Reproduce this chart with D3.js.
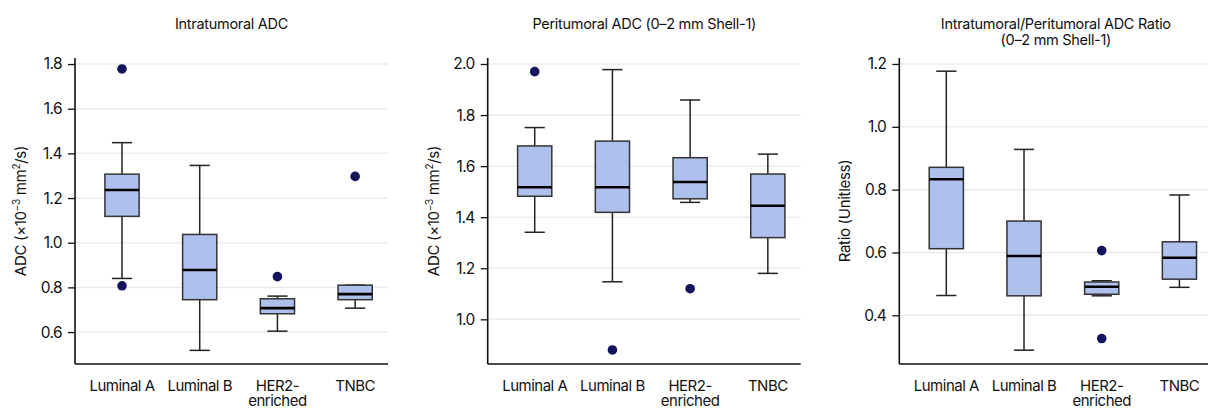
<!DOCTYPE html>
<html>
<head>
<meta charset="utf-8">
<script src="https://cdn.jsdelivr.net/npm/d3@7"></script>
<style>
  html, body { margin: 0; padding: 0; background: #fff; }
  text { font-family: Inter, "Liberation Sans", Arial, sans-serif; fill: #111; }
</style>
</head>
<body>
<svg id="chart" width="1208" height="408"></svg>
<script>
const categories = ["Luminal A", "Luminal B", "HER2-\nenriched", "TNBC"];

// Box stats per category: [whiskerLow, Q1, median, Q3, whiskerHigh]
const intraStats = [
  [0.84, 1.118, 1.236, 1.307, 1.448],
  [0.518, 0.745, 0.878, 1.037, 1.346],
  [0.604, 0.682, 0.707, 0.749, 0.761],
  [0.707, 0.745, 0.770, 0.810, 0.810]
];
const intraOutliers = [[1.778, 0.807], [], [0.848], [1.297]];

const periStats = [
  [1.341, 1.482, 1.517, 1.679, 1.751],
  [1.147, 1.419, 1.517, 1.698, 1.978],
  [1.458, 1.472, 1.538, 1.633, 1.859],
  [1.180, 1.320, 1.445, 1.569, 1.647]
];
const periOutliers = [[1.970], [0.880], [1.120], []];

const ratioStats = [
  [0.463, 0.612, 0.833, 0.871, 1.177],
  [0.289, 0.462, 0.589, 0.700, 0.928],
  [0.462, 0.467, 0.491, 0.506, 0.510],
  [0.489, 0.515, 0.583, 0.634, 0.783]
];
const ratioOutliers = [[], [], [0.606, 0.326], []];

const intraTicks = [0.6, 0.8, 1.0, 1.2, 1.4, 1.6, 1.8];
const periTicks = [1.0, 1.2, 1.4, 1.6, 1.8, 2.0];
const ratioTicks = [0.4, 0.6, 0.8, 1.0, 1.2];

const panels = [
  { title: ["Intratumoral ADC"], ylabel: "adc", stats: intraStats, outliers: intraOutliers,
    ticks: intraTicks, domain: [0.457, 1.827], left: 75 },
  { title: ["Peritumoral ADC (0–2 mm Shell-1)"], ylabel: "adc", stats: periStats, outliers: periOutliers,
    ticks: periTicks, domain: [0.825, 2.0235], left: 487.7 },
  { title: ["Intratumoral/Peritumoral ADC Ratio", "(0–2 mm Shell-1)"], ylabel: "Ratio (Unitless)",
    stats: ratioStats, outliers: ratioOutliers, ticks: ratioTicks, domain: [0.245, 1.219], left: 899.3 }
];

const svg = d3.select("#chart");
const plotTop = 58, plotBottom = 364, plotWidth = 313;
const boxW = 0.44, capW = 0.26;

panels.forEach(p => {
  const g = svg.append("g").attr("transform", `translate(${p.left},0)`);
  const x = d3.scaleLinear().domain([-0.605, 3.423]).range([0, plotWidth]);
  const y = d3.scaleLinear().domain(p.domain).range([plotBottom, plotTop]);

  // gridlines
  g.append("g").selectAll("line").data(p.ticks).join("line")
    .attr("x1", 0).attr("x2", plotWidth)
    .attr("y1", d => y(d)).attr("y2", d => y(d))
    .attr("stroke", "#ebebeb").attr("stroke-width", 1.5);

  // y axis
  const yAxis = d3.axisLeft(y).tickValues(p.ticks).tickFormat(d3.format(".1f"))
    .tickSize(7).tickPadding(6).tickSizeOuter(0);
  const ya = g.append("g").call(yAxis);
  ya.select(".domain").remove();
  ya.selectAll(".tick line").attr("stroke", "#111").attr("stroke-width", 1.3);
  ya.selectAll(".tick text").attr("font-size", 15.5).attr("fill", "#111")
    .style("font-family", "Inter, 'Liberation Sans', Arial, sans-serif")
    .attr("letter-spacing", -0.6);

  // axis lines
  g.append("line").attr("x1", 0).attr("x2", 0).attr("y1", plotTop).attr("y2", plotBottom)
    .attr("stroke", "#111").attr("stroke-width", 1.6);
  g.append("line").attr("x1", 0).attr("x2", plotWidth).attr("y1", plotBottom).attr("y2", plotBottom)
    .attr("stroke", "#111").attr("stroke-width", 1.6);

  // x labels (each line a separate text element)
  const xLines = [];
  categories.forEach((c, i) => c.split("\n").forEach((ln, k) => xLines.push({ i, k, ln })));
  g.append("g").selectAll("text").data(xLines).join("text")
    .attr("x", d => x(d.i)).attr("y", d => 391 + d.k * 15)
    .attr("text-anchor", "middle").attr("font-size", 15).attr("letter-spacing", -0.5)
    .text(d => d.ln);

  // boxes
  const bg = g.append("g").selectAll("g").data(p.stats).join("g");
  bg.append("line").attr("x1", (d, i) => x(i)).attr("x2", (d, i) => x(i))
    .attr("y1", d => y(d[3])).attr("y2", d => y(d[4])).attr("stroke", "#222").attr("stroke-width", 1.5);
  bg.append("line").attr("x1", (d, i) => x(i)).attr("x2", (d, i) => x(i))
    .attr("y1", d => y(d[0])).attr("y2", d => y(d[1])).attr("stroke", "#222").attr("stroke-width", 1.5);
  bg.append("line").attr("x1", (d, i) => x(i - capW / 2)).attr("x2", (d, i) => x(i + capW / 2))
    .attr("y1", d => y(d[4])).attr("y2", d => y(d[4])).attr("stroke", "#222").attr("stroke-width", 1.5);
  bg.append("line").attr("x1", (d, i) => x(i - capW / 2)).attr("x2", (d, i) => x(i + capW / 2))
    .attr("y1", d => y(d[0])).attr("y2", d => y(d[0])).attr("stroke", "#222").attr("stroke-width", 1.5);
  bg.append("rect").attr("x", (d, i) => x(i - boxW / 2)).attr("width", x(boxW) - x(0))
    .attr("y", d => y(d[3])).attr("height", d => y(d[1]) - y(d[3]))
    .attr("fill", "#aec0ec").attr("stroke", "#333").attr("stroke-width", 1.5);
  bg.append("line").attr("x1", (d, i) => x(i - boxW / 2)).attr("x2", (d, i) => x(i + boxW / 2))
    .attr("y1", d => y(d[2])).attr("y2", d => y(d[2])).attr("stroke", "#000").attr("stroke-width", 2.6);

  // outliers
  const pts = [];
  p.outliers.forEach((arr, i) => arr.forEach(v => pts.push({ i, v })));
  g.append("g").selectAll("circle").data(pts).join("circle")
    .attr("cx", d => x(d.i)).attr("cy", d => y(d.v)).attr("r", 4.8).attr("fill", "#14145c");

  // title
  const cx = plotWidth / 2;
  p.title.forEach((t, k) => {
    g.append("text").attr("x", cx).attr("y", 29 + k * 16).attr("text-anchor", "middle")
      .attr("font-size", 14.5).attr("letter-spacing", -0.3).text(t);
  });

  // y label
  const yl = g.append("text").attr("transform", `translate(-49,${(plotTop + plotBottom) / 2}) rotate(-90)`)
    .attr("text-anchor", "middle").attr("font-size", 15).attr("letter-spacing", -0.3);
  if (p.ylabel === "adc") {
    yl.append("tspan").text("ADC (×10");
    yl.append("tspan").attr("font-size", 10).attr("dy", -6).text("−3");
    yl.append("tspan").attr("dy", 6).text(" mm");
    yl.append("tspan").attr("font-size", 10).attr("dy", -6).text("2");
    yl.append("tspan").attr("dy", 6).text("/s)");
  } else {
    yl.text(p.ylabel);
  }
});
</script>
</body>
</html>
